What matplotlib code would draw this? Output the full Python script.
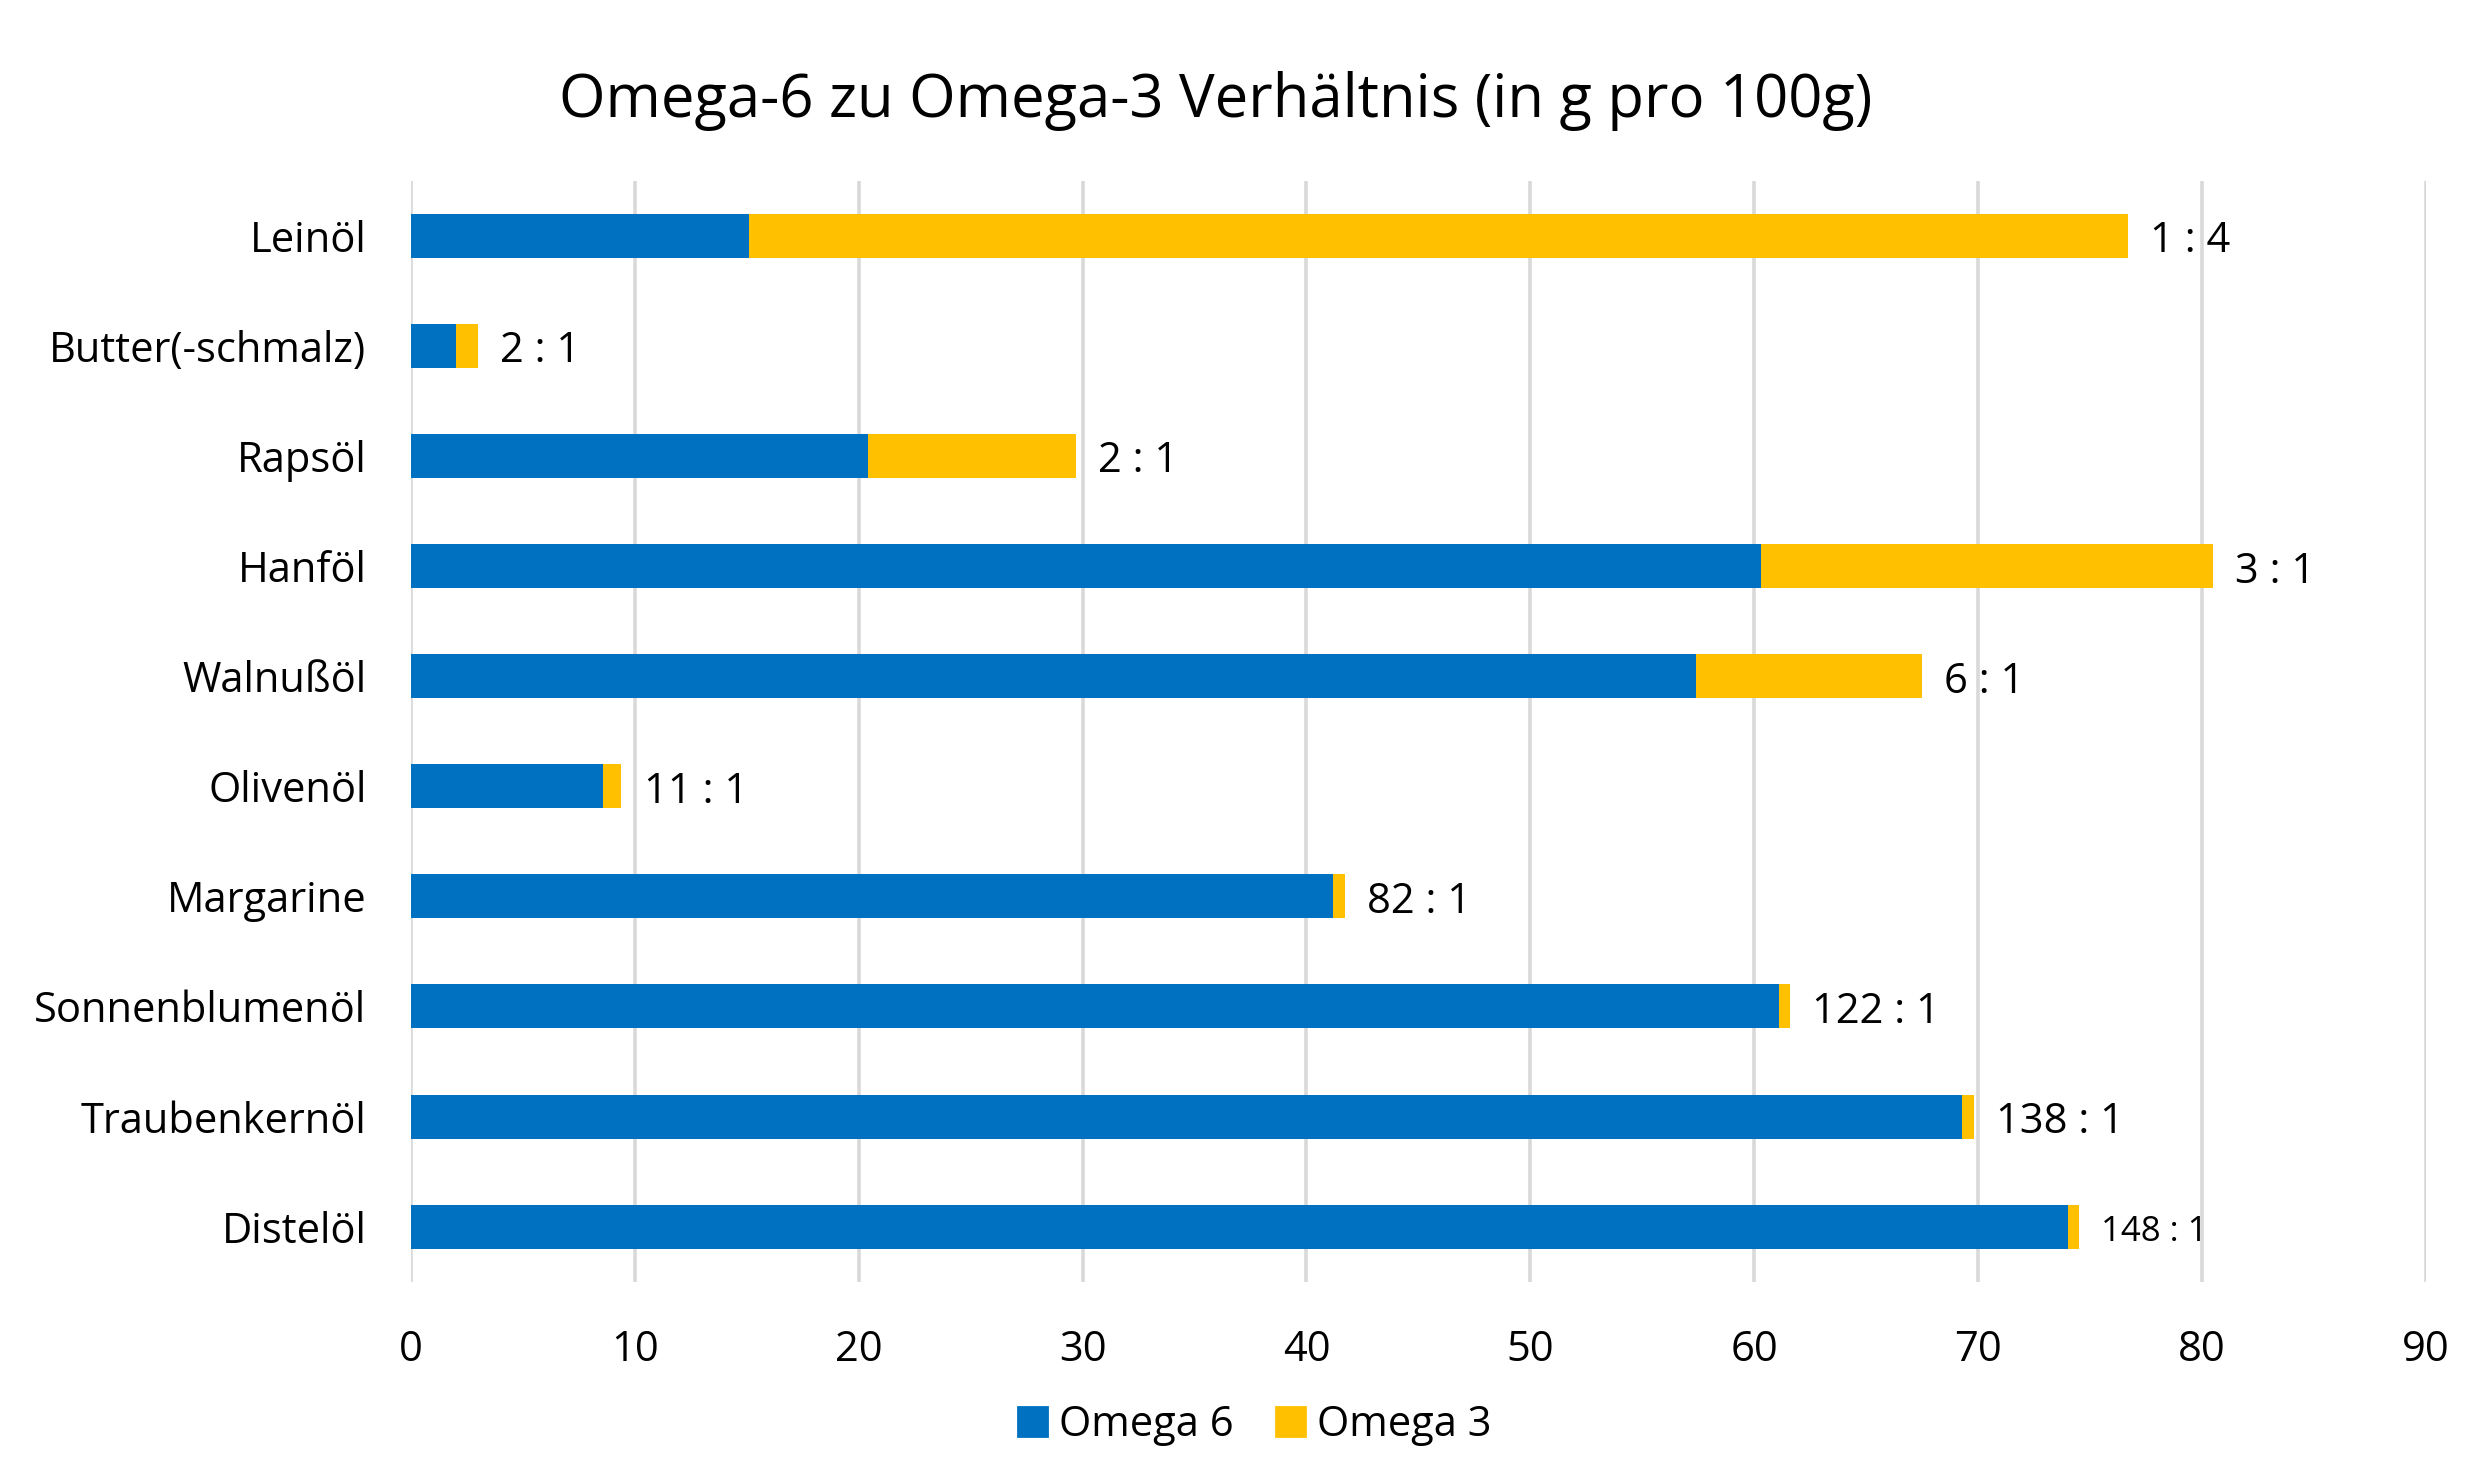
import matplotlib
matplotlib.use("Agg")
import matplotlib.pyplot as plt
from matplotlib.patches import Patch

plt.rcParams['font.family'] = ['Open Sans', 'DejaVu Sans']

oils = ["Leinöl", "Butter(-schmalz)", "Rapsöl", "Hanföl", "Walnußöl",
        "Olivenöl", "Margarine", "Sonnenblumenöl", "Traubenkernöl", "Distelöl"]
omega6 = [15.1, 2.0, 20.4, 60.3, 57.4, 8.6, 41.2, 61.1, 69.3, 74.0]
omega3 = [61.6, 1.0, 9.3, 20.2, 10.1, 0.8, 0.5, 0.5, 0.5, 0.5]
ratios = ["1 : 4", "2 : 1", "2 : 1", "3 : 1", "6 : 1",
          "11 : 1", "82 : 1", "122 : 1", "138 : 1", "148 : 1"]
xticks = [0, 10, 20, 30, 40, 50, 60, 70, 80, 90]

blue = "#0070C0"
yellow = "#FFC000"

fig = plt.figure(figsize=(12.4, 7.415), dpi=200)
ax = fig.add_axes([0.1657, 0.1357, 0.8125, 0.7425])

ypos = list(range(len(oils)))
ax.barh(ypos, omega6, height=0.4, color=blue, zorder=2)
ax.barh(ypos, omega3, left=omega6, height=0.4, color=yellow, zorder=2)

for i in ypos:
    total = omega6[i] + omega3[i]
    size = 12.5 if i == len(oils) - 1 else 15
    ax.annotate(ratios[i], (total, i), xytext=(8, -2), textcoords="offset points",
                va="center", ha="left", fontsize=size)

ax.set_xlim(0, 90)
ax.set_ylim(len(oils) - 0.5, -0.5)
ax.set_xticks(xticks)
ax.set_yticks(ypos)
ax.set_yticklabels(oils)
ax.tick_params(axis="both", length=0, labelsize=15)
ax.tick_params(axis="x", pad=17)
ax.tick_params(axis="y", pad=16)
ax.grid(axis="x", color="#d9d9d9", linewidth=1.3, zorder=0)
for s in ax.spines.values():
    s.set_visible(False)

fig.text(0.49, 0.932, "Omega-6 zu Omega-3 Verhältnis (in g pro 100g)",
         ha="center", va="center", fontsize=21.5)

handles = [Patch(color=blue, label="Omega 6"), Patch(color=yellow, label="Omega 3")]
fig.legend(handles=handles, loc="center", bbox_to_anchor=(0.506, 0.039), ncol=2,
           frameon=False, fontsize=15, handlelength=0.7, handleheight=0.7,
           handletextpad=0.3, columnspacing=1.0)

fig.savefig("out.png", dpi=200)
plt.close()
